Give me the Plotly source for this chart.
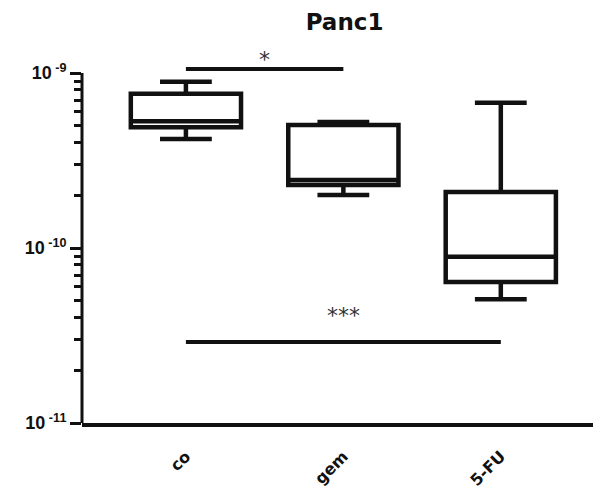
import math
import plotly.graph_objects as go

# ---- data ----
categories = ["co", "gem", "5-FU"]
upper_whisker = [8.9e-10, 5.25e-10, 6.75e-10]
q3_values = [7.6e-10, 5.05e-10, 2.09e-10]
medians = [5.3e-10, 2.45e-10, 8.9e-11]
q1_values = [4.9e-10, 2.29e-10, 6.4e-11]
lower_whisker = [4.2e-10, 2.01e-10, 5.1e-11]

y_tick_vals = [1e-11, 1e-10, 1e-9]
y_tick_text = ["10<sup> -11</sup>", "10<sup> -10</sup>", "10<sup> -9</sup>"]
minor_vals = [m * 10 ** e for e in (-11, -10) for m in range(2, 10)]

# significance brackets
sig_start = [0, 0]
sig_end = [1, 2]
sig_level = [1.054e-9, 2.9e-11]
sig_label = ["*", "***"]
sig_label_shift = [10, 27]

font_family = "Liberation Sans, Arial, sans-serif"
star_family = "DejaVu Sans, sans-serif"

W, H = 593, 491

fig = go.Figure()
fig.add_trace(go.Box(
    x=categories,
    q1=q1_values, median=medians, q3=q3_values,
    lowerfence=lower_whisker, upperfence=upper_whisker,
    boxpoints=False,
    fillcolor="white",
    line=dict(color="#111111", width=4.5),
    whiskerwidth=0.47,
    showlegend=False,
    hoverinfo="skip",
))

shapes = [
    dict(type="line", xref="paper", yref="y", x0=0, x1=0,
         y0=y_tick_vals[0], y1=y_tick_vals[-1],
         line=dict(color="#111111", width=3)),
]
annotations = []
for s, e, lvl, lab, sh in zip(sig_start, sig_end, sig_level, sig_label, sig_label_shift):
    shapes.append(dict(type="line", xref="x", yref="y", x0=s, x1=e, y0=lvl, y1=lvl,
                       line=dict(color="#111111", width=4)))
    annotations.append(dict(x=(s + e) / 2, y=math.log10(lvl), xref="x", yref="y", text=lab,
                            showarrow=False, xanchor="center", yanchor="middle", yshift=sh,
                            font=dict(family=star_family, size=22, color="#333333")))

fig.update_layout(
    width=W, height=H,
    margin=dict(l=74, r=1, t=58, b=76),
    paper_bgcolor="white", plot_bgcolor="white",
    boxgap=0.3, boxgroupgap=0,
    title=dict(text="Panc1", x=0.5675, xanchor="center", y=1 - 14 / H, yanchor="middle",
               font=dict(family="DejaVu Sans, sans-serif", size=23, color="#111111", weight="bold")),
    xaxis=dict(
        type="category", range=[-0.66, 2.63], automargin=False,
        showline=True, linecolor="#111111", linewidth=3.5,
        ticks="", tickangle=-45, ticklabelstandoff=14,
        tickfont=dict(family="DejaVu Sans, sans-serif", size=16, color="#111111", weight="bold"),
        showgrid=False, zeroline=False,
    ),
    yaxis=dict(
        type="log", range=[-11, -8.96], automargin=False,
        tickmode="array", tickvals=y_tick_vals, ticktext=y_tick_text,
        ticks="outside", ticklen=11, tickwidth=3, tickcolor="#111111",
        tickfont=dict(family=font_family, size=18, color="#111111", weight="bold"),
        showline=False, showgrid=False, zeroline=False,
        minor=dict(tickmode="array", tickvals=minor_vals, ticks="outside",
                   ticklen=7, tickwidth=2.5, tickcolor="#111111", showgrid=False),
    ),
    shapes=shapes,
    annotations=annotations,
)

fig.write_html("out.html")
